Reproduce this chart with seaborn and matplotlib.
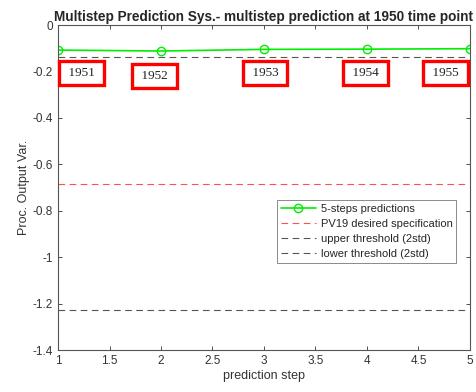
import matplotlib
matplotlib.use("Agg")
import matplotlib.pyplot as plt
import seaborn as sns
import pandas as pd

# Predicted values for each step after the 1950 time point
steps = [1, 2, 3, 4, 5]
predictions = [-0.108, -0.112, -0.105, -0.104, -0.102]
years = ["1951", "1952", "1953", "1954", "1955"]
label_x = [1.23, 1.94, 3.01, 3.99, 4.76]
label_y = [-0.205, -0.218, -0.205, -0.205, -0.205]

spec_value = -0.685
upper_threshold = -0.138
lower_threshold = -1.228

sns.set_style("white")
plt.rcParams["font.family"] = ["Liberation Sans", "DejaVu Sans"]

fig = plt.figure(figsize=(4.77, 3.92), dpi=100)
ax = fig.add_axes([0.1216, 0.1071, 0.8637, 0.8291])

df = pd.DataFrame({"step": steps, "value": predictions})
sns.lineplot(data=df, x="step", y="value", ax=ax, color="#00ee00", lw=1.2,
             marker="o", markersize=6, markerfacecolor="none",
             markeredgecolor="#00ee00", markeredgewidth=1.0,
             label="5-steps predictions")

ax.axhline(spec_value, color="#ff5050", lw=0.8, ls=(0, (6, 4)),
           label="PV19 desired specification", xmin=0, xmax=0.99)
ax.axhline(upper_threshold, color="#555555", lw=0.8, ls=(0, (6, 4)),
           label="upper threshold (2std)", xmin=0, xmax=0.99)
ax.axhline(lower_threshold, color="#555555", lw=0.8, ls=(0, (6, 4)),
           label="lower threshold (2std)", xmin=0, xmax=0.99)

for x, y, t in zip(label_x, label_y, years):
    ax.text(x, y, " " + t + " ", ha="center", va="center", fontsize=9.5,
            family=["Liberation Serif", "DejaVu Serif"], color="#222222",
            bbox=dict(boxstyle="square,pad=0.45", fc="white",
                      ec="#ff0000", lw=2.4))

ax.set_xlim(1, 5)
ax.set_ylim(-1.4, 0)
ax.set_xticks([1, 1.5, 2, 2.5, 3, 3.5, 4, 4.5, 5])
ax.set_xticklabels(["1", "1.5", "2", "2.5", "3", "3.5", "4", "4.5", "5"])
ax.set_yticks([-1.4, -1.2, -1, -0.8, -0.6, -0.4, -0.2, 0])
ax.set_yticklabels(["-1.4", "-1.2", "-1", "-0.8", "-0.6", "-0.4", "-0.2", "0"])
ax.tick_params(direction="in", length=3, labelsize=8.5, colors="#333333",
               top=True, right=True, bottom=True, left=True, width=0.6)
for s in ax.spines.values():
    s.set_color("#555555")
    s.set_linewidth(0.8)

ax.set_xlabel("prediction step", fontsize=9, color="#333333", labelpad=2)
ax.set_ylabel("Proc. Output Var.", fontsize=9, color="#333333", labelpad=2)
ax.set_title("Multistep Prediction Sys.- multistep prediction at 1950 time point",
             fontsize=9.8, fontweight="bold", pad=3)

leg = ax.legend(loc="upper left", bbox_to_anchor=(0.531, 0.462), fontsize=8,
                frameon=True, fancybox=False, edgecolor="#555555",
                handlelength=3.2, borderpad=0.35, labelspacing=0.45,
                handletextpad=0.4, borderaxespad=0)
leg.get_frame().set_linewidth(0.6)

fig.savefig("out.png", dpi=100)
